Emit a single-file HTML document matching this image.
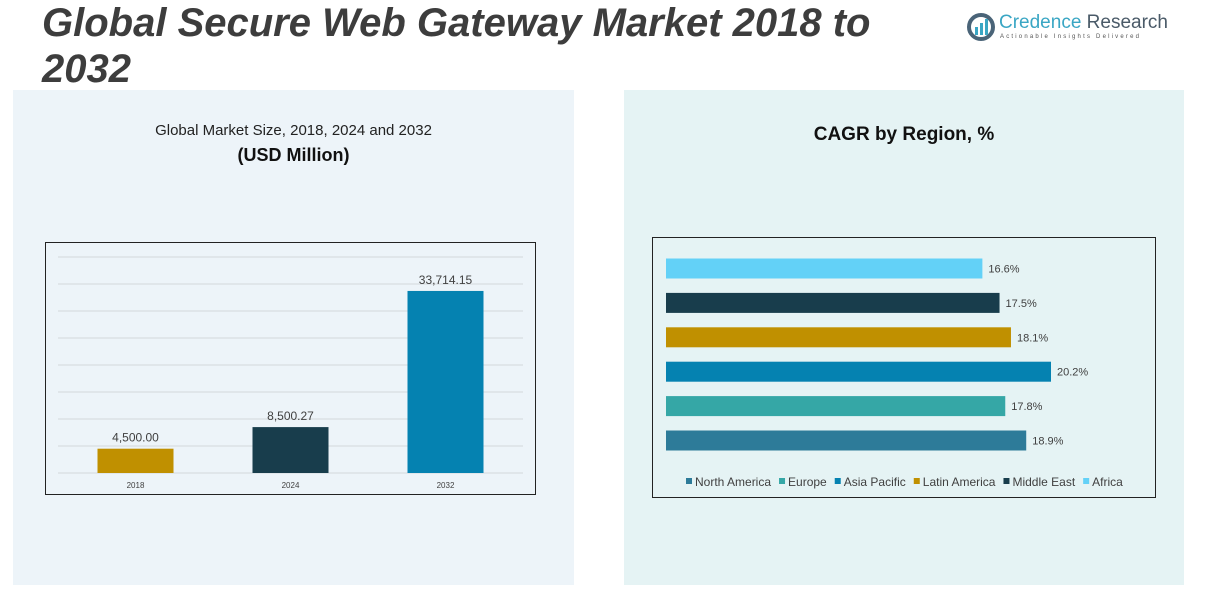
<!DOCTYPE html>
<html><head><meta charset="utf-8">
<style>
body{margin:0;width:1211px;height:600px;background:#fff;position:relative;overflow:hidden;font-family:"Liberation Sans",sans-serif;}
.abs{position:absolute;}
#title{left:42px;top:0px;font-size:40px;font-weight:bold;font-style:italic;color:#3d3d3d;line-height:46px;width:880px;}
</style></head>
<body>
<div class="abs" style="left:13px;top:90px;width:561px;height:495px;background:#edf4f9;"></div>
<div class="abs" style="left:624px;top:90px;width:560px;height:495px;background:#e5f3f4;"></div>
<div class="abs" id="title">Global Secure Web Gateway Market 2018 to 2032</div>
<div class="abs" style="left:966px;top:12px;width:200px;height:32px;">
  <svg width="30" height="30" style="position:absolute;left:0;top:0"><circle cx="15" cy="15" r="12" fill="none" stroke="#4a6478" stroke-width="4"/><rect x="9" y="15" width="3" height="8" fill="#3aa6c4"/><rect x="14" y="11" width="3" height="12" fill="#3aa6c4"/><rect x="19" y="7" width="3" height="16" fill="#3aa6c4"/></svg>
  <div class="abs" style="left:33px;top:0;font-size:19px;color:#3aa6c4;white-space:nowrap;">Credence <span style="color:#4a5a68">Research</span></div>
  <div class="abs" style="left:34px;top:22px;font-size:6px;letter-spacing:2.2px;color:#555;white-space:nowrap;">Actionable Insights Delivered</div>
</div>
<div class="abs" style="left:13px;top:122px;width:561px;text-align:center;font-size:15px;color:#222;">Global Market Size, 2018, 2024 and 2032</div>
<div class="abs" style="left:13px;top:145px;width:561px;text-align:center;font-size:18px;font-weight:bold;color:#111;">(USD Million)</div>
<div class="abs" style="left:624px;top:124px;width:560px;text-align:center;font-size:19px;font-weight:bold;color:#111;">CAGR by Region, %</div>

<svg class="abs" id="bar" style="left:0;top:0" width="1211" height="600"></svg>
<svg class="abs" id="hbar" style="left:0;top:0" width="1211" height="600"></svg>

<script>
const years=["2018","2024","2032"];
const sizes=[4500.00,8500.27,33714.15];
const sizeLabels=["4,500.00","8,500.27","33,714.15"];
const barColors=["#c09000","#183d4c","#0582b1"];
const regions=["North America","Europe","Asia Pacific","Latin America","Middle East","Africa"];
const cagr=[18.9,17.8,20.2,18.1,17.5,16.6];
const regionColors=["#2d7b99","#35a7a6","#0582b1","#c09000","#183d4c","#63d1f7"];

const NS="http://www.w3.org/2000/svg";
function mk(p,t,a){const e=document.createElementNS(NS,t);for(const k in a)e.setAttribute(k,a[k]);p.appendChild(e);return e;}

// Left chart
const s1=document.getElementById('bar');
const box1=mk(s1,'rect',{x:45.5,y:242.5,width:490,height:252,fill:'none',stroke:'#222','stroke-width':1});


const yMax=40000,base=473,plotH=216,px0=58,px1=523;
const y=v=>base-v/yMax*plotH;
for(let g=0;g<=8;g++){
  const gl=mk(s1,'line',{x1:px0,x2:px1,y1:y(g*5000),y2:y(g*5000),stroke:'#d4d9dc','stroke-width':1});
  
  
}
const cw=(px1-px0)/years.length;
years.forEach((yr,i)=>{
  const cx=px0+cw*(i+0.5);
  const r=mk(s1,'rect',{x:cx-38,y:y(sizes[i]),width:76,height:base-y(sizes[i]),fill:barColors[i]});
  
  
  const t=mk(s1,'text',{x:cx,y:y(sizes[i])-7,'text-anchor':'middle','font-size':12,fill:'#404040','font-family':'Liberation Sans'});
  t.textContent=sizeLabels[i];
  
  
  const xl=mk(s1,'text',{x:cx,y:488,'text-anchor':'middle','font-size':8,fill:'#404040','font-family':'Liberation Sans'});
  xl.textContent=yr;
  
  
});

// Right chart
const s2=document.getElementById('hbar');
const box2=mk(s2,'rect',{x:652.5,y:237.5,width:503,height:260,fill:'none',stroke:'#222','stroke-width':1});


const hx0=666,scale=385/20.2;
const xs=v=>hx0+v*scale;
regions.forEach((rg,i)=>{
  const yc=440.5-i*34.4;
  const r=mk(s2,'rect',{x:hx0,y:yc-10,width:xs(cagr[i])-hx0,height:20,fill:regionColors[i]});
  
  
  const t=mk(s2,'text',{x:xs(cagr[i])+6,y:yc+4,'font-size':11,fill:'#404040','font-family':'Liberation Sans'});
  t.textContent=cagr[i].toFixed(1)+'%';
  
  
});
let lx=686;
regions.forEach((rg,i)=>{
  const sq=mk(s2,'rect',{x:lx,y:478,width:6,height:6,fill:regionColors[i]});
  
  
  const t=mk(s2,'text',{x:lx+9,y:486,'font-size':12,fill:'#404040','font-family':'Liberation Sans'});
  t.textContent=rg;
  
  
  lx+=9+t.getComputedTextLength()+8;
});
</script>
</body></html>
